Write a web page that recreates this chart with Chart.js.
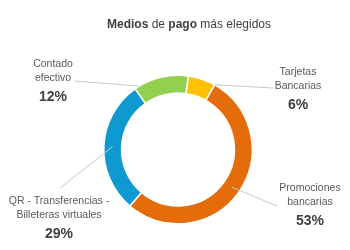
<!DOCTYPE html>
<html>
<head>
<meta charset="utf-8">
<script src="https://cdn.jsdelivr.net/npm/chart.js@4"></script>
<style>
  html, body { margin: 0; padding: 0; background: #fff; }
  #wrap { width: 350px; height: 250px; }
</style>
</head>
<body>
<div id="wrap"><canvas id="my-chart" width="350" height="250"></canvas></div>
<script>
// chart data
const categories = ['Tarjetas Bancarias', 'Promociones bancarias', 'QR - Transferencias - Billeteras virtuales', 'Contado efectivo'];
const labelLines = [['Tarjetas', 'Bancarias'], ['Promociones', 'bancarias'], ['QR - Transferencias -', 'Billeteras virtuales'], ['Contado', 'efectivo']];
const shares = [6, 53, 29, 12];
const sliceColors = ['#FFC000', '#E46C0A', '#0E9AD0', '#92D050'];

// where each callout sits and where its leader line starts / ends on the arc
const callouts = [
  { x: 298, y: 72.5, line: [273, 88], t: 0.98, r: 1.0 },
  { x: 310, y: 188.5, line: [277, 206], t: 0.5, r: 0.5 },
  { x: 59, y: 201, line: [60, 188], t: 0.5, r: 0.5 },
  { x: 53, y: 64, line: [75, 81], t: 0.07, r: 1.04 }
];

const FONT = '"Liberation Sans", Arial, sans-serif';

const calloutPlugin = {
  id: 'callouts',
  afterDatasetsDraw(chart) {
    const ctx = chart.ctx;
    const meta = chart.getDatasetMeta(0);
    ctx.save();
    meta.data.forEach((arc, i) => {
      const p = arc.getProps(['x', 'y', 'startAngle', 'endAngle', 'innerRadius', 'outerRadius'], true);
      const c = callouts[i];
      const a = p.startAngle + (p.endAngle - p.startAngle) * c.t;
      const r = p.innerRadius + (p.outerRadius - p.innerRadius) * c.r;
      ctx.strokeStyle = '#C8C8C8';
      ctx.lineWidth = 1;
      ctx.beginPath();
      ctx.moveTo(c.line[0], c.line[1]);
      ctx.lineTo(p.x + Math.cos(a) * r, p.y + Math.sin(a) * r);
      ctx.stroke();

      ctx.textAlign = 'center';
      ctx.textBaseline = 'middle';
      ctx.fillStyle = '#595959';
      ctx.font = '10.5px ' + FONT;
      labelLines[i].forEach((txt, k) => ctx.fillText(txt, c.x, c.y + k * 14));
      ctx.fillStyle = '#404040';
      ctx.font = 'bold 14px ' + FONT;
      ctx.fillText(shares[i] + '%', c.x, c.y + 33);
    });

    // title with mixed weights
    const parts = [['Medios', true], [' de ', false], ['pago', true], [' más elegidos', false]];
    let total = 0;
    parts.forEach(pt => {
      ctx.font = (pt[1] ? 'bold ' : '') + '12px ' + FONT;
      total += ctx.measureText(pt[0]).width;
    });
    let x = 189 - total / 2;
    ctx.textAlign = 'left';
    ctx.fillStyle = '#404040';
    parts.forEach(pt => {
      ctx.font = (pt[1] ? 'bold ' : '') + '12px ' + FONT;
      ctx.fillText(pt[0], x, 25);
      x += ctx.measureText(pt[0]).width;
    });
    ctx.restore();
  }
};

const ctx = document.getElementById('my-chart').getContext('2d');
const chart = new Chart(ctx, {
  type: 'doughnut',
  data: {
    labels: categories,
    datasets: [{
      data: shares,
      backgroundColor: sliceColors,
      borderColor: '#FFFFFF',
      borderWidth: 1.5
    }]
  },
  options: {
    responsive: false,
    animation: false,
    rotation: 8,
    cutout: '76%',
    layout: { padding: { top: 74.5, bottom: 25.5, left: 103, right: 97 } },
    plugins: {
      legend: { display: false },
      tooltip: { enabled: false },
      title: { display: false }
    }
  },
  plugins: [calloutPlugin]
});
</script>
</body>
</html>
